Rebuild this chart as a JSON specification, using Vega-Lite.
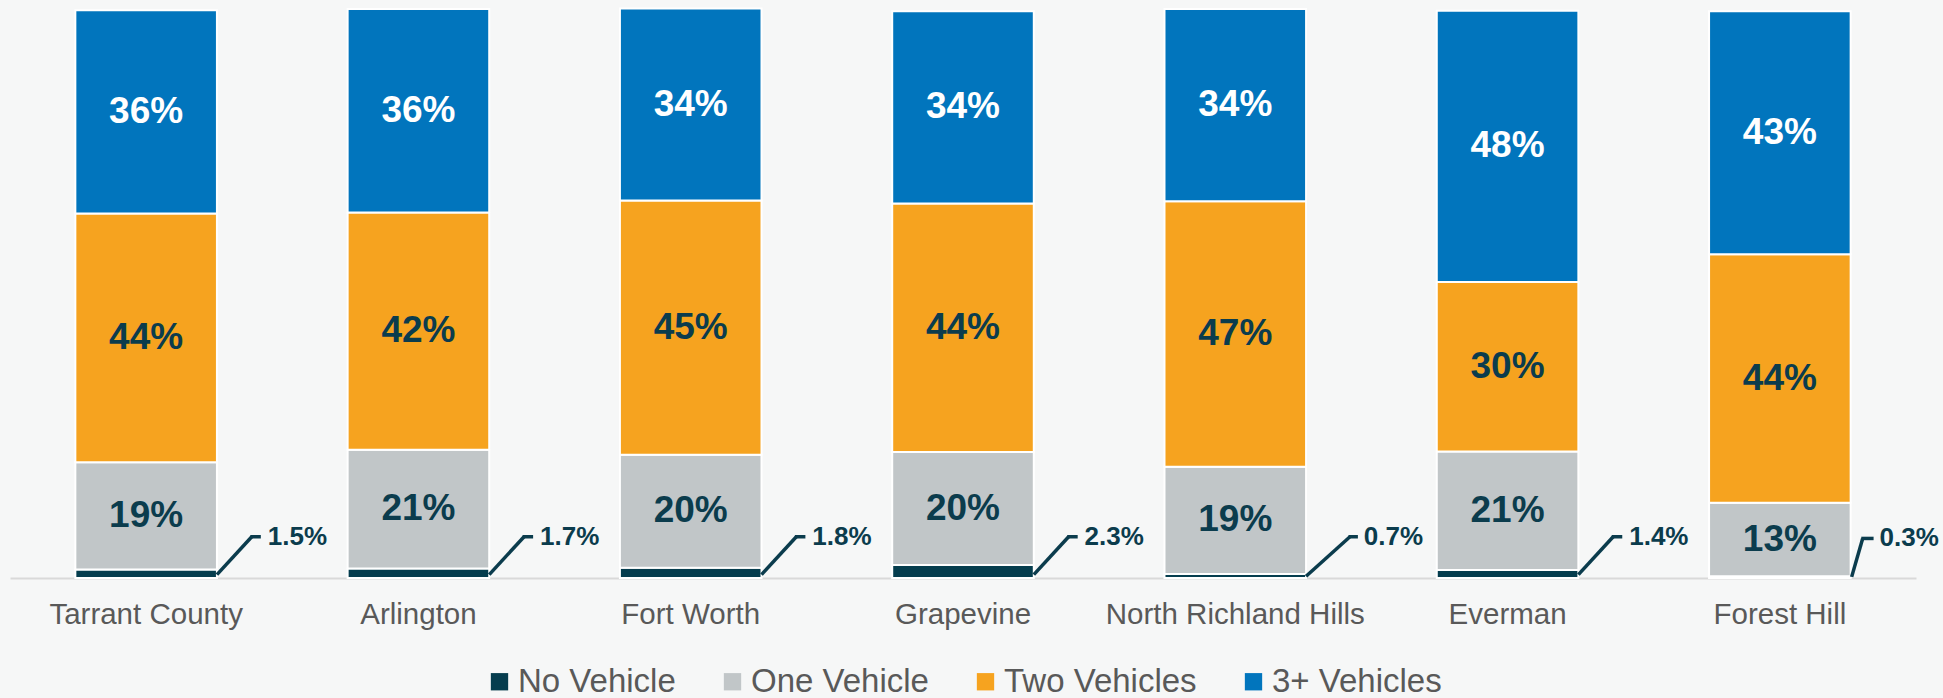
{
  "$schema": "https://vega.github.io/schema/vega-lite/v6.json",
  "width": 1906,
  "height": 578,
  "autosize": {"type": "none"},
  "padding": {"left": 10, "top": 0, "right": 27, "bottom": 120},
  "background": "#f6f7f7",
  "config": {"view": {"stroke": null}, "font": "Liberation Sans"},
  "data": {"values": [
    {"city": "Tarrant County", "type": "No Vehicle", "k": 1, "pct": 0.015},
    {"city": "Tarrant County", "type": "One Vehicle", "k": 2, "pct": 0.19},
    {"city": "Tarrant County", "type": "Two Vehicles", "k": 3, "pct": 0.44},
    {"city": "Tarrant County", "type": "3+ Vehicles", "k": 4, "pct": 0.36},
    {"city": "Arlington", "type": "No Vehicle", "k": 1, "pct": 0.017},
    {"city": "Arlington", "type": "One Vehicle", "k": 2, "pct": 0.21},
    {"city": "Arlington", "type": "Two Vehicles", "k": 3, "pct": 0.42},
    {"city": "Arlington", "type": "3+ Vehicles", "k": 4, "pct": 0.36},
    {"city": "Fort Worth", "type": "No Vehicle", "k": 1, "pct": 0.018},
    {"city": "Fort Worth", "type": "One Vehicle", "k": 2, "pct": 0.20},
    {"city": "Fort Worth", "type": "Two Vehicles", "k": 3, "pct": 0.45},
    {"city": "Fort Worth", "type": "3+ Vehicles", "k": 4, "pct": 0.34},
    {"city": "Grapevine", "type": "No Vehicle", "k": 1, "pct": 0.023},
    {"city": "Grapevine", "type": "One Vehicle", "k": 2, "pct": 0.20},
    {"city": "Grapevine", "type": "Two Vehicles", "k": 3, "pct": 0.44},
    {"city": "Grapevine", "type": "3+ Vehicles", "k": 4, "pct": 0.34},
    {"city": "North Richland Hills", "type": "No Vehicle", "k": 1, "pct": 0.007},
    {"city": "North Richland Hills", "type": "One Vehicle", "k": 2, "pct": 0.19},
    {"city": "North Richland Hills", "type": "Two Vehicles", "k": 3, "pct": 0.47},
    {"city": "North Richland Hills", "type": "3+ Vehicles", "k": 4, "pct": 0.34},
    {"city": "Everman", "type": "No Vehicle", "k": 1, "pct": 0.014},
    {"city": "Everman", "type": "One Vehicle", "k": 2, "pct": 0.21},
    {"city": "Everman", "type": "Two Vehicles", "k": 3, "pct": 0.30},
    {"city": "Everman", "type": "3+ Vehicles", "k": 4, "pct": 0.48},
    {"city": "Forest Hill", "type": "No Vehicle", "k": 1, "pct": 0.003},
    {"city": "Forest Hill", "type": "One Vehicle", "k": 2, "pct": 0.13},
    {"city": "Forest Hill", "type": "Two Vehicles", "k": 3, "pct": 0.44},
    {"city": "Forest Hill", "type": "3+ Vehicles", "k": 4, "pct": 0.43}
  ]},
  "layer": [
    {
      "mark": {"type": "bar", "stroke": "white", "strokeWidth": 2},
      "encoding": {
        "x": {"field": "city", "type": "nominal",
              "sort": ["Tarrant County", "Arlington", "Fort Worth", "Grapevine", "North Richland Hills", "Everman", "Forest Hill"],
              "scale": {"paddingInner": 0.48, "paddingOuter": 0.24},
              "axis": {"title": null, "labelAngle": 0, "ticks": false, "labelPadding": 22, "labelFontSize": 29.5, "labelLimit": 500,
                       "labelColor": "#595959", "labelFont": "Liberation Sans", "domainColor": "#d9d9d9", "domainWidth": 2}},
        "y": {"field": "pct", "type": "quantitative", "stack": "zero", "scale": {"domain": [0, 1.023], "nice": false}, "axis": null},
        "color": {"field": "type", "type": "nominal",
                  "scale": {"domain": ["No Vehicle", "One Vehicle", "Two Vehicles", "3+ Vehicles"],
                            "range": ["#053d4e", "#c1c6c8", "#f6a31f", "#0175bd"]},
                  "legend": {"title": null, "orient": "none", "direction": "horizontal", "legendX": 473, "legendY": 665,
                             "symbolType": "square", "symbolSize": 300, "symbolStrokeWidth": 0, "labelFontSize": 33, "labelLimit": 600,
                             "labelColor": "#595959", "labelFont": "Liberation Sans", "labelOffset": 2, "columnPadding": 40, "padding": 0}},
        "order": {"field": "k", "type": "quantitative"}
      }
    },
    {
      "mark": {"type": "text", "fontSize": 37, "fontWeight": "bold", "baseline": "middle", "align": "center", "font": "Liberation Sans"},
      "encoding": {
        "x": {"field": "city", "type": "nominal",
              "sort": ["Tarrant County", "Arlington", "Fort Worth", "Grapevine", "North Richland Hills", "Everman", "Forest Hill"]},
        "y": {"field": "pct", "type": "quantitative", "stack": "zero", "bandPosition": 0.5},
        "detail": {"field": "type"},
        "order": {"field": "k", "type": "quantitative"},
        "text": {"condition": {"test": "datum.type === 'No Vehicle'", "value": ""}, "field": "pct", "format": ".0%"},
        "color": {"condition": {"test": "datum.type === '3+ Vehicles'", "value": "white"}, "value": "#0b3c4d"}
      }
    },
    {
      "transform": [{"filter": "datum.type === 'No Vehicle' && datum.city !== 'Forest Hill' && datum.city !== 'North Richland Hills'"}],
      "mark": {"type": "rule", "color": "#0b3c4d", "strokeWidth": 3.5},
      "encoding": {
        "x": {"field": "city", "type": "nominal", "bandPosition": 1.0,
              "sort": ["Tarrant County", "Arlington", "Fort Worth", "Grapevine", "North Richland Hills", "Everman", "Forest Hill"]},
        "x2": {"field": "city", "bandPosition": 1.246},
        "y": {"datum": 0.006},
        "y2": {"datum": 0.073}
      }
    },
    {
      "transform": [{"filter": "datum.type === 'No Vehicle' && datum.city !== 'Forest Hill' && datum.city !== 'North Richland Hills'"}],
      "mark": {"type": "rule", "color": "#0b3c4d", "strokeWidth": 3.5},
      "encoding": {
        "x": {"field": "city", "type": "nominal", "bandPosition": 1.236,
              "sort": ["Tarrant County", "Arlington", "Fort Worth", "Grapevine", "North Richland Hills", "Everman", "Forest Hill"]},
        "x2": {"field": "city", "bandPosition": 1.31},
        "y": {"datum": 0.073}
      }
    },
    {
      "transform": [{"filter": "datum.type === 'No Vehicle' && datum.city !== 'Forest Hill' && datum.city !== 'North Richland Hills'"}],
      "mark": {"type": "text", "fontSize": 26, "fontWeight": "bold", "align": "left", "baseline": "middle", "color": "#0b3c4d", "font": "Liberation Sans"},
      "encoding": {
        "x": {"field": "city", "type": "nominal", "bandPosition": 1.359,
              "sort": ["Tarrant County", "Arlington", "Fort Worth", "Grapevine", "North Richland Hills", "Everman", "Forest Hill"]},
        "y": {"datum": 0.073},
        "text": {"field": "pct", "format": ".1%"}
      }
    },
    {
      "transform": [{"filter": "datum.type === 'No Vehicle' && datum.city === 'North Richland Hills'"}],
      "mark": {"type": "rule", "color": "#0b3c4d", "strokeWidth": 3.5},
      "encoding": {
        "x": {"field": "city", "type": "nominal", "bandPosition": 1.0,
              "sort": ["Tarrant County", "Arlington", "Fort Worth", "Grapevine", "North Richland Hills", "Everman", "Forest Hill"]},
        "x2": {"field": "city", "bandPosition": 1.31},
        "y": {"datum": 0.003},
        "y2": {"datum": 0.073}
      }
    },
    {
      "transform": [{"filter": "datum.type === 'No Vehicle' && datum.city === 'North Richland Hills'"}],
      "mark": {"type": "rule", "color": "#0b3c4d", "strokeWidth": 3.5},
      "encoding": {
        "x": {"field": "city", "type": "nominal", "bandPosition": 1.30,
              "sort": ["Tarrant County", "Arlington", "Fort Worth", "Grapevine", "North Richland Hills", "Everman", "Forest Hill"]},
        "x2": {"field": "city", "bandPosition": 1.366},
        "y": {"datum": 0.073}
      }
    },
    {
      "transform": [{"filter": "datum.type === 'No Vehicle' && datum.city === 'North Richland Hills'"}],
      "mark": {"type": "text", "fontSize": 26, "fontWeight": "bold", "align": "left", "baseline": "middle", "color": "#0b3c4d", "font": "Liberation Sans"},
      "encoding": {
        "x": {"field": "city", "type": "nominal", "bandPosition": 1.408,
              "sort": ["Tarrant County", "Arlington", "Fort Worth", "Grapevine", "North Richland Hills", "Everman", "Forest Hill"]},
        "y": {"datum": 0.073},
        "text": {"field": "pct", "format": ".1%"}
      }
    },
    {
      "transform": [{"filter": "datum.type === 'No Vehicle' && datum.city === 'Forest Hill'"}],
      "mark": {"type": "rule", "color": "#0b3c4d", "strokeWidth": 3.5},
      "encoding": {
        "x": {"field": "city", "type": "nominal", "bandPosition": 1.007,
              "sort": ["Tarrant County", "Arlington", "Fort Worth", "Grapevine", "North Richland Hills", "Everman", "Forest Hill"]},
        "x2": {"field": "city", "bandPosition": 1.085},
        "y": {"datum": 0.002},
        "y2": {"datum": 0.07}
      }
    },
    {
      "transform": [{"filter": "datum.type === 'No Vehicle' && datum.city === 'Forest Hill'"}],
      "mark": {"type": "rule", "color": "#0b3c4d", "strokeWidth": 3.5},
      "encoding": {
        "x": {"field": "city", "type": "nominal", "bandPosition": 1.075,
              "sort": ["Tarrant County", "Arlington", "Fort Worth", "Grapevine", "North Richland Hills", "Everman", "Forest Hill"]},
        "x2": {"field": "city", "bandPosition": 1.162},
        "y": {"datum": 0.07}
      }
    },
    {
      "transform": [{"filter": "datum.type === 'No Vehicle' && datum.city === 'Forest Hill'"}],
      "mark": {"type": "text", "fontSize": 26, "fontWeight": "bold", "align": "left", "baseline": "middle", "color": "#0b3c4d", "font": "Liberation Sans"},
      "encoding": {
        "x": {"field": "city", "type": "nominal", "bandPosition": 1.204,
              "sort": ["Tarrant County", "Arlington", "Fort Worth", "Grapevine", "North Richland Hills", "Everman", "Forest Hill"]},
        "y": {"datum": 0.07},
        "text": {"field": "pct", "format": ".1%"}
      }
    }
  ]
}
